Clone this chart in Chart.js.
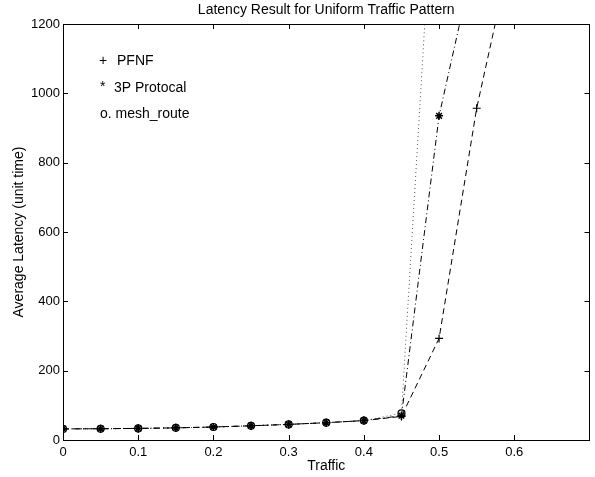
<!DOCTYPE html>
<html>
<head>
<meta charset="utf-8">
<script src="https://cdn.jsdelivr.net/npm/chart.js@4/dist/chart.umd.min.js"></script>
<style>
  html, body { margin: 0; padding: 0; background: #fff; }
  #wrap { width: 595px; height: 477px; position: relative; }
</style>
</head>
<body>
<div id="wrap"><canvas id="c" width="595" height="477"></canvas></div>
<script>
// ---- data ----
const traffic = [0, 0.05, 0.1, 0.15, 0.2, 0.25, 0.3, 0.35, 0.4, 0.45, 0.5, 0.55, 0.6];
const pfnf = [32, 32.5, 33.5, 35, 37.5, 41, 45, 50, 56, 68, 293, 957, 1450];
const protocol3p = [32, 32.5, 33.5, 35, 37.5, 41, 45, 50, 56, 70, 935, 1420];
const meshRoute = [32, 32.5, 33.5, 35, 37.5, 41, 45, 50, 56, 77, 1890];
const seriesNames = ['PFNF', '3P Protocal', 'mesh_route'];
const xTickLabels = ['0', '0.1', '0.2', '0.3', '0.4', '0.5', '0.6'];
const yTickLabels = ['0', '200', '400', '600', '800', '1000', '1200'];
const titleText = 'Latency Result for Uniform Traffic Pattern';
const xTitle = 'Traffic';
const yTitle = 'Average Latency (unit time)';

const toPts = (arr) => arr.map((v, i) => ({ x: traffic[i], y: v }));
const FONT = '"Liberation Sans", Arial, Helvetica, sans-serif';

const decor = {
  id: 'decor',
  afterDraw(chart) {
    const { ctx, chartArea: a, scales } = chart;
    const xs = scales.x, ys = scales.y;
    ctx.save();
    // box
    ctx.strokeStyle = '#000';
    ctx.lineWidth = 1;
    ctx.strokeRect(Math.round(a.left) + 0.5, Math.round(a.top) + 0.5,
                   Math.round(a.right - a.left) - 1, Math.round(a.bottom - a.top));
    // inward ticks on all four sides
    const tl = 5;
    ctx.beginPath();
    xs.ticks.forEach(t => {
      const px = Math.round(xs.getPixelForValue(t.value)) + 0.5;
      ctx.moveTo(px, a.bottom); ctx.lineTo(px, a.bottom - tl);
      ctx.moveTo(px, a.top); ctx.lineTo(px, a.top + tl);
    });
    ys.ticks.forEach(t => {
      const py = Math.round(ys.getPixelForValue(t.value)) + 0.5;
      ctx.moveTo(a.left, py); ctx.lineTo(a.left + tl, py);
      ctx.moveTo(a.right, py); ctx.lineTo(a.right - tl, py);
    });
    ctx.stroke();

    ctx.fillStyle = '#000';
    ctx.textBaseline = 'middle';
    // title
    ctx.font = '14px ' + FONT;
    ctx.textAlign = 'center';
    ctx.fillText(titleText, (a.left + a.right) / 2, 10);
    // x title
    ctx.fillText(xTitle, (a.left + a.right) / 2, 466);
    // y title
    ctx.save();
    ctx.translate(19, (a.top + a.bottom) / 2);
    ctx.rotate(-Math.PI / 2);
    ctx.fillText(yTitle, 0, 0);
    ctx.restore();
    // legend-like text
    ctx.textAlign = 'left';
    ctx.font = '14px ' + FONT;
    ctx.fillText('+', 99, 61);
    ctx.fillText(seriesNames[0], 117, 61);
    ctx.fillText('*', 100, 87);
    ctx.fillText(seriesNames[1], 114, 88);
    ctx.fillText('o. ' + seriesNames[2], 100, 114);
    ctx.restore();
  }
};

new Chart(document.getElementById('c'), {
  type: 'line',
  data: {
    datasets: [
      {
        label: seriesNames[0], data: toPts(pfnf),
        borderColor: '#000', backgroundColor: 'transparent', borderWidth: 1,
        borderDash: [6, 4], pointStyle: 'cross', pointRadius: 4,
        pointBorderColor: '#000', pointBorderWidth: 1.2, tension: 0
      },
      {
        label: seriesNames[1], data: toPts(protocol3p),
        borderColor: '#000', backgroundColor: 'transparent', borderWidth: 1,
        borderDash: [6, 3, 1, 3], pointStyle: 'star', pointRadius: 4,
        pointBorderColor: '#000', pointBorderWidth: 1.5, tension: 0
      },
      {
        label: seriesNames[2], data: toPts(meshRoute),
        borderColor: '#555', backgroundColor: 'transparent', borderWidth: 1,
        borderDash: [1, 3], pointStyle: 'circle', pointRadius: 3.5,
        pointBorderColor: '#000', pointBackgroundColor: 'transparent', pointBorderWidth: 1.2, tension: 0
      }
    ]
  },
  options: {
    responsive: false,
    animation: false,
    layout: { padding: { left: 0, right: 4, top: 24, bottom: 0 } },
    plugins: { legend: { display: false }, title: { display: false }, tooltip: { enabled: false } },
    scales: {
      x: {
        type: 'linear', min: 0, max: 0.7,
        grid: { display: false, drawTicks: false },
        border: { display: false },
        afterBuildTicks: (s) => { s.ticks = xTickLabels.map(l => ({ value: parseFloat(l) })); },
        afterFit: (s) => { s.height = 37; },
        ticks: {
          padding: 5, color: '#000', font: { family: FONT, size: 13 }, maxRotation: 0,
          callback: (v, i) => xTickLabels[i]
        }
      },
      y: {
        type: 'linear', min: 0, max: 1200,
        grid: { display: false, drawTicks: false },
        border: { display: false },
        afterBuildTicks: (s) => { s.ticks = yTickLabels.map(l => ({ value: parseFloat(l) })); },
        afterFit: (s) => { s.width = 63; },
        ticks: {
          padding: 3, color: '#000', font: { family: FONT, size: 13 },
          callback: (v, i) => yTickLabels[i]
        }
      }
    }
  },
  plugins: [decor]
});
</script>
</body>
</html>
